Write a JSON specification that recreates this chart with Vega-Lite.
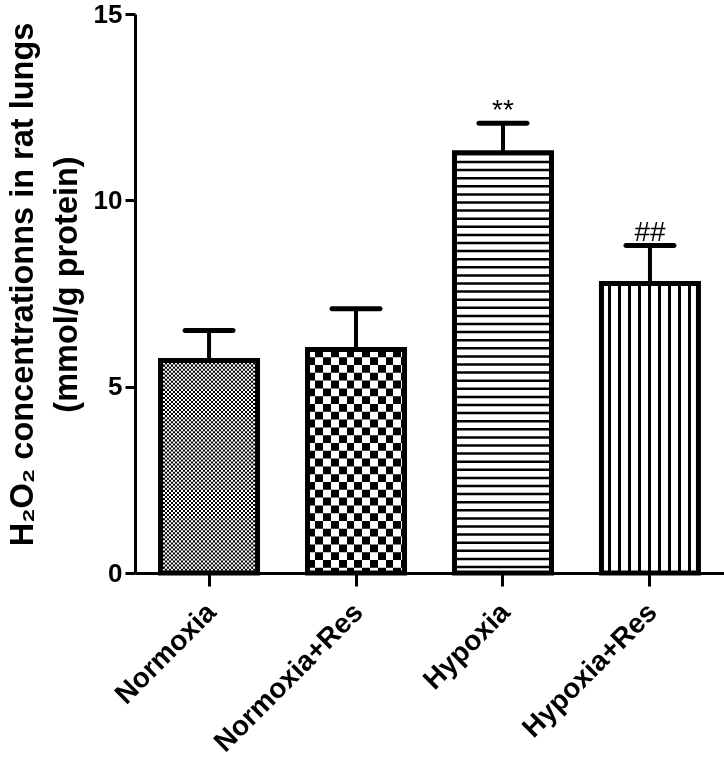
{
  "$schema": "https://vega.github.io/schema/vega-lite/v6.json",
  "width": 589,
  "height": 559,
  "autosize": {"type": "none"},
  "padding": {"left": 135, "top": 14, "right": 0, "bottom": 190},
  "background": "white",
  "config": {"view": {"stroke": null}, "font": "Liberation Sans"},
  "resolve": {"axis": {"y": "independent"}},
  "data": {
    "values": [
      {"group": "Normoxia", "mean": 5.70, "upper": 6.51, "sig": ""},
      {"group": "Normoxia+Res", "mean": 6.00, "upper": 7.09, "sig": ""},
      {"group": "Hypoxia", "mean": 11.28, "upper": 12.07, "sig": "**"},
      {"group": "Hypoxia+Res", "mean": 7.77, "upper": 8.79, "sig": "##"}
    ]
  },
  "encoding": {
    "x": {
      "field": "group",
      "type": "nominal",
      "sort": null,
      "scale": {
        "domain": ["Normoxia", "Normoxia+Res", "Hypoxia", "Hypoxia+Res"],
        "paddingInner": 0.34,
        "paddingOuter": 0.1738
      },
      "axis": {
        "title": null,
        "labelAngle": -45,
        "labelAlign": "right",
        "labelBaseline": "top",
        "labelFont": "Liberation Sans",
        "labelFontSize": 28,
        "labelFontWeight": "bold",
        "labelColor": "black",
        "labelPadding": 12,
        "labelOffset": -7,
        "labelLimit": 0,
        "tickSize": 13,
        "tickWidth": 3,
        "tickColor": "black",
        "domainWidth": 3,
        "domainColor": "black",
        "labelOverlap": false
      }
    }
  },
  "layer": [
    {
      "transform": [{"filter": "datum.group === 'Normoxia'"}],
      "mark": {
        "type": "bar",
        "stroke": null,
        "fill": {
          "gradient": "linear", "x1": 0, "y1": 0, "x2": 1, "y2": 0,
          "stops": [
            {"offset": 0, "color": "#000"}, {"offset": 0.0208, "color": "#000"},
            {"offset": 0.0208, "color": "#fff"}, {"offset": 0.0417, "color": "#fff"},
            {"offset": 0.0417, "color": "#000"}, {"offset": 0.0625, "color": "#000"},
            {"offset": 0.0625, "color": "#fff"}, {"offset": 0.0833, "color": "#fff"},
            {"offset": 0.0833, "color": "#000"}, {"offset": 0.1042, "color": "#000"},
            {"offset": 0.1042, "color": "#fff"}, {"offset": 0.125, "color": "#fff"},
            {"offset": 0.125, "color": "#000"}, {"offset": 0.1458, "color": "#000"},
            {"offset": 0.1458, "color": "#fff"}, {"offset": 0.1667, "color": "#fff"},
            {"offset": 0.1667, "color": "#000"}, {"offset": 0.1875, "color": "#000"},
            {"offset": 0.1875, "color": "#fff"}, {"offset": 0.2083, "color": "#fff"},
            {"offset": 0.2083, "color": "#000"}, {"offset": 0.2292, "color": "#000"},
            {"offset": 0.2292, "color": "#fff"}, {"offset": 0.25, "color": "#fff"},
            {"offset": 0.25, "color": "#000"}, {"offset": 0.2708, "color": "#000"},
            {"offset": 0.2708, "color": "#fff"}, {"offset": 0.2917, "color": "#fff"},
            {"offset": 0.2917, "color": "#000"}, {"offset": 0.3125, "color": "#000"},
            {"offset": 0.3125, "color": "#fff"}, {"offset": 0.3333, "color": "#fff"},
            {"offset": 0.3333, "color": "#000"}, {"offset": 0.3542, "color": "#000"},
            {"offset": 0.3542, "color": "#fff"}, {"offset": 0.375, "color": "#fff"},
            {"offset": 0.375, "color": "#000"}, {"offset": 0.3958, "color": "#000"},
            {"offset": 0.3958, "color": "#fff"}, {"offset": 0.4167, "color": "#fff"},
            {"offset": 0.4167, "color": "#000"}, {"offset": 0.4375, "color": "#000"},
            {"offset": 0.4375, "color": "#fff"}, {"offset": 0.4583, "color": "#fff"},
            {"offset": 0.4583, "color": "#000"}, {"offset": 0.4792, "color": "#000"},
            {"offset": 0.4792, "color": "#fff"}, {"offset": 0.5, "color": "#fff"},
            {"offset": 0.5, "color": "#000"}, {"offset": 0.5208, "color": "#000"},
            {"offset": 0.5208, "color": "#fff"}, {"offset": 0.5417, "color": "#fff"},
            {"offset": 0.5417, "color": "#000"}, {"offset": 0.5625, "color": "#000"},
            {"offset": 0.5625, "color": "#fff"}, {"offset": 0.5833, "color": "#fff"},
            {"offset": 0.5833, "color": "#000"}, {"offset": 0.6042, "color": "#000"},
            {"offset": 0.6042, "color": "#fff"}, {"offset": 0.625, "color": "#fff"},
            {"offset": 0.625, "color": "#000"}, {"offset": 0.6458, "color": "#000"},
            {"offset": 0.6458, "color": "#fff"}, {"offset": 0.6667, "color": "#fff"},
            {"offset": 0.6667, "color": "#000"}, {"offset": 0.6875, "color": "#000"},
            {"offset": 0.6875, "color": "#fff"}, {"offset": 0.7083, "color": "#fff"},
            {"offset": 0.7083, "color": "#000"}, {"offset": 0.7292, "color": "#000"},
            {"offset": 0.7292, "color": "#fff"}, {"offset": 0.75, "color": "#fff"},
            {"offset": 0.75, "color": "#000"}, {"offset": 0.7708, "color": "#000"},
            {"offset": 0.7708, "color": "#fff"}, {"offset": 0.7917, "color": "#fff"},
            {"offset": 0.7917, "color": "#000"}, {"offset": 0.8125, "color": "#000"},
            {"offset": 0.8125, "color": "#fff"}, {"offset": 0.8333, "color": "#fff"},
            {"offset": 0.8333, "color": "#000"}, {"offset": 0.8542, "color": "#000"},
            {"offset": 0.8542, "color": "#fff"}, {"offset": 0.875, "color": "#fff"},
            {"offset": 0.875, "color": "#000"}, {"offset": 0.8958, "color": "#000"},
            {"offset": 0.8958, "color": "#fff"}, {"offset": 0.9167, "color": "#fff"},
            {"offset": 0.9167, "color": "#000"}, {"offset": 0.9375, "color": "#000"},
            {"offset": 0.9375, "color": "#fff"}, {"offset": 0.9583, "color": "#fff"},
            {"offset": 0.9583, "color": "#000"}, {"offset": 0.9792, "color": "#000"},
            {"offset": 0.9792, "color": "#fff"}, {"offset": 1, "color": "#fff"}
          ]
        }
      },
      "encoding": {
        "y": {
          "field": "mean",
          "type": "quantitative",
          "scale": {"domain": [0, 15], "nice": false, "zero": true},
          "axis": {
            "values": [0, 5, 10, 15],
            "title": ["H₂O₂ concentrationns in rat lungs", "(mmol/g protein)"],
            "titleFont": "Liberation Sans",
            "titleFontSize": 32.5,
            "titleFontWeight": "bold",
            "titleColor": "black",
            "titleAngle": 270,
            "titleAlign": "center",
            "titleBaseline": "middle",
            "titleLineHeight": 44,
            "titleX": -113,
            "titleY": 270,
            "labelFont": "Liberation Sans",
            "labelFontSize": 26,
            "labelFontWeight": "bold",
            "labelColor": "black",
            "labelPadding": 3,
            "labelFlush": false,
            "labelOverlap": false,
            "tickSize": 10,
            "tickWidth": 3,
            "tickColor": "black",
            "domainWidth": 3,
            "domainColor": "black",
            "grid": false
          }
        }
      }
    },
    {
      "transform": [{"filter": "datum.group === 'Normoxia'"}],
      "mark": {"type": "rule", "color": "white", "strokeWidth": 97, "strokeDash": [2.02, 2.02], "blend": "difference"},
      "encoding": {
        "y": {"field": "mean", "type": "quantitative", "axis": null},
        "y2": {"datum": 0}
      }
    },
    {
      "transform": [{"filter": "datum.group === 'Normoxia+Res'"}],
      "mark": {
        "type": "bar",
        "stroke": null,
        "fill": {
          "gradient": "linear", "x1": 0, "y1": 0, "x2": 1, "y2": 0,
          "stops": [
            {"offset": 0, "color": "#000"}, {"offset": 0.0804, "color": "#000"},
            {"offset": 0.0804, "color": "#fff"}, {"offset": 0.1608, "color": "#fff"},
            {"offset": 0.1608, "color": "#000"}, {"offset": 0.2412, "color": "#000"},
            {"offset": 0.2412, "color": "#fff"}, {"offset": 0.3216, "color": "#fff"},
            {"offset": 0.3216, "color": "#000"}, {"offset": 0.4021, "color": "#000"},
            {"offset": 0.4021, "color": "#fff"}, {"offset": 0.4825, "color": "#fff"},
            {"offset": 0.4825, "color": "#000"}, {"offset": 0.5629, "color": "#000"},
            {"offset": 0.5629, "color": "#fff"}, {"offset": 0.6433, "color": "#fff"},
            {"offset": 0.6433, "color": "#000"}, {"offset": 0.7237, "color": "#000"},
            {"offset": 0.7237, "color": "#fff"}, {"offset": 0.8041, "color": "#fff"},
            {"offset": 0.8041, "color": "#000"}, {"offset": 0.8845, "color": "#000"},
            {"offset": 0.8845, "color": "#fff"}, {"offset": 0.9649, "color": "#fff"},
            {"offset": 0.9649, "color": "#000"}, {"offset": 1, "color": "#000"}
          ]
        }
      },
      "encoding": {
        "y": {"field": "mean", "type": "quantitative", "axis": null}
      }
    },
    {
      "transform": [{"filter": "datum.group === 'Normoxia+Res'"}],
      "mark": {"type": "rule", "color": "white", "strokeWidth": 97, "strokeDash": [7.8, 7.8], "blend": "difference"},
      "encoding": {
        "y": {"field": "mean", "type": "quantitative", "axis": null},
        "y2": {"datum": 0}
      }
    },
    {
      "transform": [{"filter": "datum.group === 'Hypoxia'"}],
      "mark": {"type": "bar", "stroke": null, "fill": "white"},
      "encoding": {
        "y": {"field": "mean", "type": "quantitative", "axis": null}
      }
    },
    {
      "transform": [{"filter": "datum.group === 'Hypoxia'"}],
      "mark": {"type": "rule", "color": "black", "strokeWidth": 97, "strokeDash": [2.5, 5.6]},
      "encoding": {
        "y": {"field": "mean", "type": "quantitative", "axis": null},
        "y2": {"datum": 0}
      }
    },
    {
      "transform": [{"filter": "datum.group === 'Hypoxia+Res'"}],
      "mark": {
        "type": "bar",
        "stroke": null,
        "fill": {
          "gradient": "linear", "x1": 0, "y1": 0, "x2": 1, "y2": 0,
          "stops": [
            {"offset": 0, "color": "#fff"},
            {"offset": 0.0675, "color": "#fff"}, {"offset": 0.0675, "color": "#000"}, {"offset": 0.0933, "color": "#000"}, {"offset": 0.0933, "color": "#fff"},
            {"offset": 0.1706, "color": "#fff"}, {"offset": 0.1706, "color": "#000"}, {"offset": 0.1964, "color": "#000"}, {"offset": 0.1964, "color": "#fff"},
            {"offset": 0.2737, "color": "#fff"}, {"offset": 0.2737, "color": "#000"}, {"offset": 0.2995, "color": "#000"}, {"offset": 0.2995, "color": "#fff"},
            {"offset": 0.3768, "color": "#fff"}, {"offset": 0.3768, "color": "#000"}, {"offset": 0.4026, "color": "#000"}, {"offset": 0.4026, "color": "#fff"},
            {"offset": 0.4799, "color": "#fff"}, {"offset": 0.4799, "color": "#000"}, {"offset": 0.5057, "color": "#000"}, {"offset": 0.5057, "color": "#fff"},
            {"offset": 0.583, "color": "#fff"}, {"offset": 0.583, "color": "#000"}, {"offset": 0.6088, "color": "#000"}, {"offset": 0.6088, "color": "#fff"},
            {"offset": 0.6861, "color": "#fff"}, {"offset": 0.6861, "color": "#000"}, {"offset": 0.7119, "color": "#000"}, {"offset": 0.7119, "color": "#fff"},
            {"offset": 0.7892, "color": "#fff"}, {"offset": 0.7892, "color": "#000"}, {"offset": 0.8149, "color": "#000"}, {"offset": 0.8149, "color": "#fff"},
            {"offset": 0.8923, "color": "#fff"}, {"offset": 0.8923, "color": "#000"}, {"offset": 0.918, "color": "#000"}, {"offset": 0.918, "color": "#fff"},
            {"offset": 1, "color": "#fff"}
          ]
        }
      },
      "encoding": {
        "y": {"field": "mean", "type": "quantitative", "axis": null}
      }
    },
    {
      "mark": {"type": "bar", "filled": false, "color": "black", "strokeWidth": 5, "strokeJoin": "miter"},
      "encoding": {
        "y": {"field": "mean", "type": "quantitative", "axis": null}
      }
    },
    {
      "mark": {"type": "rule", "color": "black", "strokeWidth": 4},
      "encoding": {
        "y": {"field": "mean", "type": "quantitative", "axis": null},
        "y2": {"field": "upper"}
      }
    },
    {
      "mark": {"type": "tick", "color": "black", "opacity": 1, "size": 53, "thickness": 5, "cornerRadius": 2.5},
      "encoding": {
        "y": {"field": "upper", "type": "quantitative", "axis": null}
      }
    },
    {
      "mark": {"type": "text", "font": "Liberation Sans", "fontSize": 28, "color": "black", "baseline": "alphabetic", "dy": -4},
      "encoding": {
        "y": {"field": "upper", "type": "quantitative", "axis": null},
        "text": {"field": "sig"}
      }
    }
  ]
}
